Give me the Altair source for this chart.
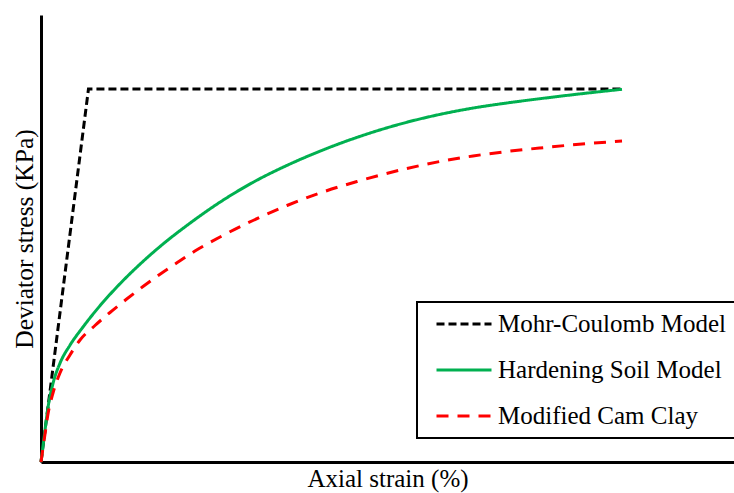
import altair as alt
import pandas as pd

# Series names (legend order)
series_names = ["Mohr-Coulomb Model", "Hardening Soil Model", "Modified Cam Clay"]
series_colors = ["#000000", "#00b050", "#ff0000"]
series_dashes = [[8, 4], [1, 0], [12, 9]]

# Mohr-Coulomb (normalised axial strain, normalised deviator stress)
mc_x = [0, 6.85, 83.84]
mc_y = [0, 83.45, 83.45]

# Hardening Soil
hs_x = [0, 0.58, 1.01, 1.73, 2.74, 4.18, 6.06, 8.51, 11.40, 14.29, 17.17, 21.50,
        25.83, 30.59, 35.50, 40.26, 46.03, 52.81, 57.58, 62.34, 67.24, 72.01, 76.77, 83.84]
hs_y = [0, 7.16, 12.19, 17.56, 22.10, 26.13, 30.20, 34.96, 39.88, 44.26, 48.20, 53.43,
        58.13, 62.56, 66.36, 69.54, 72.85, 76.01, 77.77, 79.18, 80.32, 81.28, 82.17, 83.38]

# Modified Cam Clay
cc_x = [0, 0.58, 1.01, 1.73, 2.74, 4.18, 5.63, 7.79, 9.96, 12.41, 14.72, 17.17, 19.77,
        22.51, 25.83, 30.59, 35.50, 40.26, 45.60, 52.81, 57.58, 62.34, 67.24, 72.01, 76.77, 83.84]
cc_y = [0, 6.26, 10.74, 15.44, 19.91, 23.94, 27.29, 30.54, 33.45, 36.51, 39.26, 42.01, 44.74,
        47.47, 50.34, 54.03, 57.38, 60.18, 62.75, 65.66, 67.23, 68.46, 69.46, 70.25, 70.96, 71.81]

df_mc = pd.DataFrame({"strain": mc_x, "stress": mc_y, "model": series_names[0]})
df_curves = pd.concat([
    pd.DataFrame({"strain": hs_x, "stress": hs_y, "model": series_names[1]}),
    pd.DataFrame({"strain": cc_x, "stress": cc_y, "model": series_names[2]}),
])

FONT = "Liberation Serif"

x_enc = alt.X("strain:Q", scale=alt.Scale(domain=[0, 100], nice=False, zero=True),
              axis=alt.Axis(title="Axial strain (%)", ticks=False, labels=False, grid=False,
                            domainColor="black", domainWidth=3, titleFont=FONT,
                            titleFontSize=25, titleFontWeight="normal", titleColor="black",
                            titlePadding=4))
y_enc = alt.Y("stress:Q", scale=alt.Scale(domain=[0, 100], nice=False, zero=True),
              axis=alt.Axis(title="Deviator stress (KPa)", ticks=False, labels=False, grid=False,
                            domainColor="black", domainWidth=3, titleFont=FONT,
                            titleFontSize=25.5, titleFontWeight="normal", titleColor="black",
                            titlePadding=4))

legend = alt.Legend(orient="none", legendX=376, legendY=287, title=None,
                    symbolType="stroke", symbolSize=3025, symbolStrokeWidth=3,
                    labelFont=FONT, labelFontSize=25, labelColor="black", labelLimit=400,
                    strokeColor="black", fillColor="white", padding=9,
                    symbolOffset=9, labelOffset=5, clipHeight=26, rowPadding=20)

color_enc = alt.Color("model:N", scale=alt.Scale(domain=series_names, range=series_colors),
                      legend=legend)
dash_enc = alt.StrokeDash("model:N", scale=alt.Scale(domain=series_names, range=series_dashes),
                          legend=legend)

mc_layer = alt.Chart(df_mc).mark_line(strokeWidth=3, interpolate="linear").encode(
    x=x_enc, y=y_enc, color=color_enc, strokeDash=dash_enc)
curve_layer = alt.Chart(df_curves).mark_line(strokeWidth=3, interpolate="monotone").encode(
    x=x_enc, y=y_enc, color=color_enc, strokeDash=dash_enc)

chart = alt.layer(mc_layer, curve_layer).properties(
    width=693, height=447,
    autosize=alt.AutoSizeParams(type="none"),
    padding={"left": 41, "top": 15, "right": 0, "bottom": 31},
).configure(
    font=FONT, style={"guide-label": {"font": FONT}}
).configure_view(stroke=None).configure_legend(
    strokeWidth=2, labelFont=FONT, labelFontSize=25, labelColor="black"
)

chart.save("out.html", embed_options={"renderer": "svg", "actions": False})
